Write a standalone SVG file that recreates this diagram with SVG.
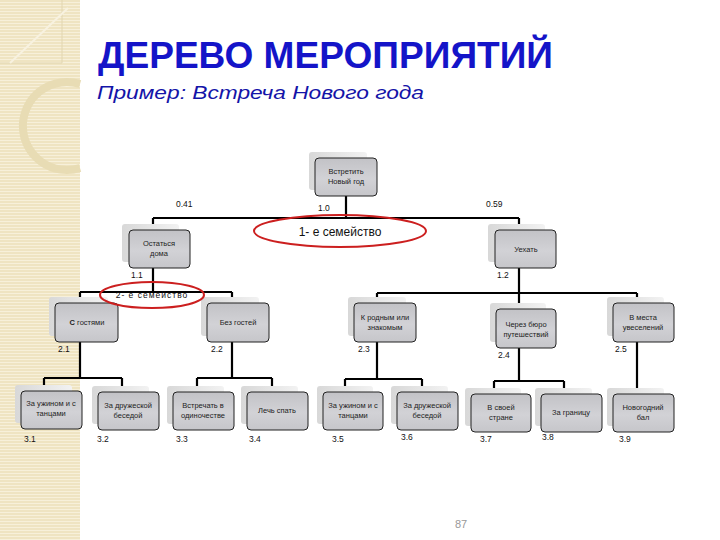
<svg xmlns="http://www.w3.org/2000/svg" width="720" height="540" viewBox="0 0 720 540">
<defs>
<linearGradient id="gNode" x1="0" y1="0" x2="0" y2="1">
<stop offset="0" stop-color="#c2c2c6"/><stop offset="0.55" stop-color="#d2d2d6"/><stop offset="1" stop-color="#c6c6ca"/>
</linearGradient>
<linearGradient id="gShadow" x1="0" y1="0" x2="1" y2="0">
<stop offset="0" stop-color="#d8d8d8"/><stop offset="1" stop-color="#f2f2f2"/>
</linearGradient>
<pattern id="stripes" width="6" height="3" patternUnits="userSpaceOnUse">
<rect width="6" height="3" fill="#efe4c2"/>
<rect y="2" width="6" height="1" fill="#f7f0da"/>
</pattern>
<style>
.sh{fill:url(#gShadow);}
.bx{fill:url(#gNode);stroke:#222;stroke-width:1;}
.t{font-family:"Liberation Sans",Arial,sans-serif;font-size:7.5px;fill:#222;text-anchor:middle;}
.n{font-family:"Liberation Sans",Arial,sans-serif;font-size:8.5px;fill:#111;}
.ln{stroke:#000;stroke-width:2.2;fill:none;}
.el{fill:none;stroke:#cc1f1f;stroke-width:2;}
</style>
</defs>
<rect width="720" height="540" fill="#ffffff"/>
<g id="background">
<rect x="0" y="0" width="80" height="540" fill="url(#stripes)"/>
<path d="M0 63 H62 V0" fill="none" stroke="#e2d6b0" stroke-width="1"/>
<path d="M10 63 L68 8" fill="none" stroke="#f8f2e0" stroke-width="2"/>
<path d="M80 84 A44 44 0 1 0 80 168" fill="none" stroke="#e8dcb4" stroke-width="8"/>
</g>
<g id="title">
<text x="98" y="68" textLength="455" lengthAdjust="spacingAndGlyphs" font-family="Liberation Sans, Arial, sans-serif" font-weight="bold" font-size="37" fill="#1414c8">ДЕРЕВО МЕРОПРИЯТИЙ</text>
<text x="97" y="99" textLength="327" lengthAdjust="spacingAndGlyphs" font-family="Liberation Sans, Arial, sans-serif" font-style="italic" font-size="19" fill="#1414a8">Пример:  Встреча Нового года</text>
</g>
<g id="connectors">
<path class="ln" d="M346 196 V218 M153 218 H519 M153 218 V230 M519 218 V230"/>
<path class="ln" d="M153 268 V292 M80 292 H232 M80 292 V303 M232 292 V303"/>
<path class="ln" d="M519 268 V309 M377 293 H637 M377 293 V303 M637 293 V303"/>
<path class="ln" d="M80 342 V378 M44 378 H122 M44 378 V391 M122 378 V391"/>
<path class="ln" d="M232 342 V378 M197 378 H272 M197 378 V391 M272 378 V391"/>
<path class="ln" d="M377 342 V379 M345 379 H422 M345 379 V391 M422 379 V391"/>
<path class="ln" d="M519 348 V381 M494 381 H564 M494 381 V393 M564 381 V393"/>
<path class="ln" d="M637 342 V394"/>
</g>
<g id="n0"><rect class="sh" x="309" y="152" width="58" height="38" rx="3"/><rect class="bx" x="315" y="158" width="62" height="38" rx="4"/><text class="t" x="346" y="174">Встретить</text><text class="t" x="346" y="184">Новый год</text></g>
<g id="n11"><rect class="sh" x="122" y="224" width="57" height="38" rx="3"/><rect class="bx" x="129" y="230" width="61" height="38" rx="4"/><text class="t" x="159" y="246">Остаться</text><text class="t" x="159" y="256">дома</text></g>
<g id="n12"><rect class="sh" x="488" y="224" width="57" height="38" rx="3"/><rect class="bx" x="495" y="230" width="61" height="38" rx="4"/><text class="t" x="526" y="252">Уехать</text></g>
<g id="n21"><rect class="sh" x="49" y="297" width="59" height="39" rx="3"/><rect class="bx" x="55" y="303" width="63" height="39" rx="4"/><text class="t" x="87" y="325"><tspan font-weight="bold">С</tspan> гостями</text></g>
<g id="n22"><rect class="sh" x="201" y="297" width="58" height="39" rx="3"/><rect class="bx" x="207" y="303" width="62" height="39" rx="4"/><text class="t" x="238" y="325">Без гостей</text></g>
<g id="n23"><rect class="sh" x="348" y="297" width="58" height="39" rx="3"/><rect class="bx" x="354" y="303" width="62" height="39" rx="4"/><text class="t" x="385" y="320">К родным или</text><text class="t" x="385" y="330">знакомым</text></g>
<g id="n24"><rect class="sh" x="490" y="303" width="56" height="39" rx="3"/><rect class="bx" x="496" y="309" width="60" height="39" rx="4"/><text class="t" x="526" y="327">Через бюро</text><text class="t" x="526" y="337">путешествий</text></g>
<g id="n25"><rect class="sh" x="607" y="297" width="57" height="39" rx="3"/><rect class="bx" x="613" y="303" width="61" height="39" rx="4"/><text class="t" x="643" y="320">В места</text><text class="t" x="643" y="330">увеселений</text></g>
<g id="n31"><rect class="sh" x="15" y="385" width="57" height="38" rx="3"/><rect class="bx" x="21" y="391" width="61" height="38" rx="4"/><text class="t" x="51" y="406">За ужином и с</text><text class="t" x="51" y="416">танцами</text></g>
<g id="n32"><rect class="sh" x="92" y="386" width="57" height="38" rx="3"/><rect class="bx" x="98" y="392" width="61" height="38" rx="4"/><text class="t" x="128" y="408">За дружеской</text><text class="t" x="128" y="418">беседой</text></g>
<g id="n33"><rect class="sh" x="167" y="386" width="57" height="38" rx="3"/><rect class="bx" x="173" y="392" width="61" height="38" rx="4"/><text class="t" x="203" y="408">Встречать в</text><text class="t" x="203" y="418">одиночестве</text></g>
<g id="n34"><rect class="sh" x="241" y="386" width="57" height="38" rx="3"/><rect class="bx" x="247" y="392" width="61" height="38" rx="4"/><text class="t" x="277" y="413">Лечь спать</text></g>
<g id="n35"><rect class="sh" x="317" y="386" width="56" height="38" rx="3"/><rect class="bx" x="323" y="392" width="60" height="38" rx="4"/><text class="t" x="353" y="408">За ужином и с</text><text class="t" x="353" y="418">танцами</text></g>
<g id="n36"><rect class="sh" x="391" y="386" width="57" height="38" rx="3"/><rect class="bx" x="397" y="392" width="61" height="38" rx="4"/><text class="t" x="427" y="408">За дружеской</text><text class="t" x="427" y="418">беседой</text></g>
<g id="n37"><rect class="sh" x="465" y="388" width="56" height="38" rx="3"/><rect class="bx" x="471" y="394" width="60" height="38" rx="4"/><text class="t" x="501" y="410">В своей</text><text class="t" x="501" y="420">стране</text></g>
<g id="n38"><rect class="sh" x="535" y="388" width="57" height="38" rx="3"/><rect class="bx" x="541" y="394" width="61" height="38" rx="4"/><text class="t" x="571" y="415">За границу</text></g>
<g id="n39"><rect class="sh" x="607" y="388" width="57" height="38" rx="3"/><rect class="bx" x="613" y="394" width="61" height="38" rx="4"/><text class="t" x="643" y="410">Новогодний</text><text class="t" x="643" y="420">бал</text></g>
<g id="labels">
<text class="n" x="176" y="207">0.41</text>
<text class="n" x="318" y="211">1.0</text>
<text class="n" x="486" y="207">0.59</text>
<text class="n" x="131" y="278">1.1</text>
<text class="n" x="497" y="278">1.2</text>
<text class="n" x="58" y="352">2.1</text>
<text class="n" x="211" y="352">2.2</text>
<text class="n" x="358" y="352">2.3</text>
<text class="n" x="498" y="358">2.4</text>
<text class="n" x="615" y="352">2.5</text>
<text class="n" x="24" y="442">3.1</text>
<text class="n" x="97" y="442">3.2</text>
<text class="n" x="176" y="442">3.3</text>
<text class="n" x="249" y="442">3.4</text>
<text class="n" x="332" y="442">3.5</text>
<text class="n" x="401" y="440">3.6</text>
<text class="n" x="480" y="442">3.7</text>
<text class="n" x="542" y="440">3.8</text>
<text class="n" x="619" y="442">3.9</text>
</g>
<g id="highlights">
<ellipse class="el" cx="340" cy="231" rx="86" ry="16"/>
<text x="340" y="236" text-anchor="middle" font-family="Liberation Sans, Arial, sans-serif" font-size="12" fill="#111">1- е семейство</text>
<ellipse class="el" cx="152" cy="295" rx="52" ry="13"/>
<text x="152" y="298" text-anchor="middle" font-family="Liberation Sans, Arial, sans-serif" font-size="8.5" letter-spacing="1" fill="#111">2- е семейство</text>
</g>
<text x="455" y="528" font-family="Liberation Sans, Arial, sans-serif" font-size="11" fill="#999">87</text>
</svg>
